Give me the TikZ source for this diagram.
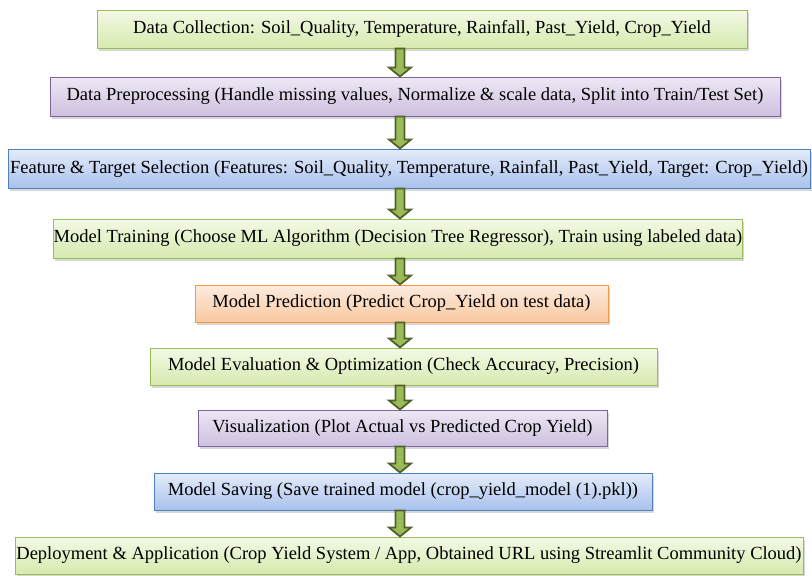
\documentclass[tikz,border=0pt]{standalone}
\usepackage{fontspec}
\setmainfont{Liberation Serif}
\usetikzlibrary{calc,shadows}

\definecolor{grnline}{HTML}{9BBB59}
\definecolor{grntop}{HTML}{F3F9E6}
\definecolor{grnbot}{HTML}{D6EAAE}
\definecolor{purline}{HTML}{8064A2}
\definecolor{purtop}{HTML}{EEE8F4}
\definecolor{purbot}{HTML}{CDC0DF}
\definecolor{bluline}{HTML}{4F81BD}
\definecolor{blutop}{HTML}{E4ECFA}
\definecolor{blubot}{HTML}{A9C1EC}
\definecolor{orgline}{HTML}{F79646}
\definecolor{orgtop}{HTML}{FDECDE}
\definecolor{orgbot}{HTML}{F9C8A0}
\definecolor{arrline}{HTML}{4F6228}
\definecolor{arrfill}{HTML}{9BBB59}

\begin{document}
\begin{tikzpicture}[x=1pt,y=-1pt,font=\fontsize{18.5}{22}\selectfont,
 stage/.style={line width=1pt,inner sep=0pt,align=center,
   drop shadow={shadow xshift=1.5pt,shadow yshift=-2.5pt,opacity=0.35,fill=black!45}},
 green/.style={stage,draw=grnline,top color=grntop,bottom color=grnbot},
 purple/.style={stage,draw=purline,top color=purtop,bottom color=purbot},
 blue/.style={stage,draw=bluline,top color=blutop,bottom color=blubot},
 orange/.style={stage,draw=orgline,top color=orgtop,bottom color=orgbot},
 flow/.style={draw=arrline,fill=arrfill,line width=1.8pt,line join=miter,
   to path={let \p1=(\tikztostart), \p2=(\tikztotarget) in
     (\x1-4.5pt,\y1) -- (\x1-4.5pt,\y2+9pt) -- (\x1-11pt,\y2+9pt) -- (\x1,\y2)
     -- (\x1+11pt,\y2+9pt) -- (\x1+4.5pt,\y2+9pt) -- (\x1+4.5pt,\y1) -- cycle}}]
\useasboundingbox (0,0) rectangle (812,576);
\coordinate (axis) at (400,0);

\node[green,minimum width=650pt,minimum height=38pt] (collect) at (422,29)
 {Data Collection: Soil\_Quality, Temperature, Rainfall, Past\_Yield, Crop\_Yield};
\node[purple,minimum width=730pt,minimum height=39pt] (prep) at (415,96.5)
 {Data Preprocessing (Handle missing values, Normalize \& scale data, Split into Train/Test Set)};
\node[blue,minimum width=802pt,minimum height=39pt] (select) at (409,168.5)
 {Feature \& Target Selection (Features: Soil\_Quality, Temperature, Rainfall, Past\_Yield, Target: Crop\_Yield)};
\node[green,minimum width=682pt,minimum height=39pt] (train) at (398,238.5)
 {Model Training (Choose ML Algorithm (Decision Tree Regressor), Train using labeled data)};
\node[orange,minimum width=413pt,minimum height=37pt] (predict) at (401.5,303.5)
 {Model Prediction (Predict Crop\_Yield on test data)};
\node[green,minimum width=507pt,minimum height=37pt] (evaluate) at (403.5,366.5)
 {Model Evaluation \& Optimization (Check Accuracy, Precision)};
\node[purple,minimum width=409pt,minimum height=36pt] (visual) at (402.5,428)
 {Visualization (Plot Actual vs Predicted Crop Yield)};
\node[blue,minimum width=498pt,minimum height=37pt] (save) at (403,491.5)
 {Model Saving (Save trained model (crop\_yield\_model (1).pkl))};
\node[green,minimum width=788pt,minimum height=37pt] (deploy) at (409,555.5)
 {Deployment \& Application (Crop Yield System / App, Obtained URL using Streamlit Community Cloud)};

% block arrows down the middle
\foreach \a/\b in {collect/prep,prep/select,select/train,train/predict,
  predict/evaluate,evaluate/visual,visual/save,save/deploy}
  \draw[flow] (\a.south -| axis) to (\b.north -| axis);
\end{tikzpicture}
\end{document}
